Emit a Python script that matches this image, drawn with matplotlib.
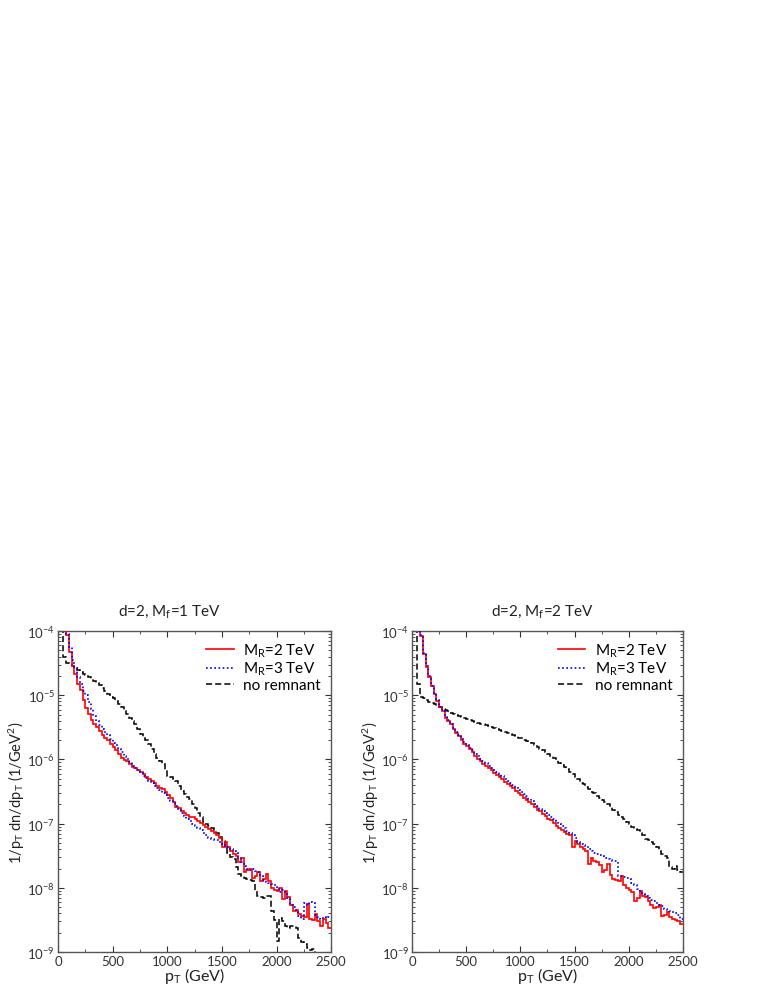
import numpy as np
import matplotlib
matplotlib.use("Agg")
import matplotlib.pyplot as plt
from matplotlib.ticker import MultipleLocator, FixedLocator, NullFormatter, LogFormatterMathtext

plt.rcParams['font.family'] = ['Lato', 'DejaVu Sans']
plt.rcParams['mathtext.default'] = 'regular'

# pT bins (GeV)
edges = np.arange(0, 2525, 25)

# log10 of 1/pT dn/dpT, read off the picture bin by bin
# --- left panel: d=2, Mf=1 TeV
left_mr2 = [-3.5, -3.7, -3.9, -4.06, -4.33, -4.54, -4.67, -4.82, -4.92, -5.08,
            -5.20, -5.29, -5.38, -5.45, -5.50, -5.56, -5.62, -5.66, -5.70, -5.76,
            -5.80, -5.85, -5.91, -5.97, -6.01, -6.03, -6.07, -6.11, -6.14, -6.16,
            -6.19, -6.23, -6.28, -6.31, -6.33, -6.37, -6.41, -6.44, -6.46, -6.50,
            -6.56, -6.60, -6.66, -6.74, -6.76, -6.81, -6.84, -6.87, -6.89, -6.90,
            -6.93, -6.96, -6.99, -7.02, -7.05, -7.09, -7.11, -7.14, -7.17, -7.22,
            -7.37, -7.29, -7.36, -7.42, -7.47, -7.50, -7.60, -7.53, -7.76, -7.72,
            -7.70, -7.84, -7.82, -7.76, -7.89, -7.86, -7.79, -7.90, -8.00, -8.03,
            -8.05, -8.00, -8.18, -8.05, -8.15, -8.26, -8.36, -8.34, -8.41, -8.44,
            -8.46, -8.25, -8.49, -8.50, -8.41, -8.52, -8.59, -8.49, -8.54, -8.62]
left_mr3 = [-3.5, -3.7, -3.9, -4.05, -4.25, -4.45, -4.58, -4.72, -4.82, -4.93,
            -5.00, -5.10, -5.22, -5.33, -5.40, -5.46, -5.52, -5.57, -5.62, -5.68,
            -5.74, -5.78, -5.84, -5.89, -5.94, -6.00, -6.04, -6.10, -6.14, -6.17,
            -6.21, -6.26, -6.29, -6.33, -6.37, -6.41, -6.45, -6.48, -6.52, -6.55,
            -6.60, -6.64, -6.68, -6.72, -6.78, -6.84, -6.88, -6.92, -6.96, -7.00,
            -7.03, -7.07, -7.10, -7.14, -7.18, -7.22, -7.24, -7.25, -7.26, -7.28,
            -7.31, -7.35, -7.37, -7.40, -7.43, -7.46, -7.53, -7.60, -7.66, -7.71,
            -7.72, -7.70, -7.73, -7.76, -7.82, -7.88, -7.91, -7.92, -7.94, -7.96,
            -8.00, -8.06, -8.04, -8.10, -8.18, -8.26, -8.30, -8.38, -8.44, -8.48,
            -8.24, -8.26, -8.22, -8.24, -8.42, -8.46, -8.48, -8.46, -8.47, -8.46]
left_norem = [-3.3, -3.6, -4.41, -4.49, -4.51, -4.54, -4.57, -4.61, -4.64, -4.67,
              -4.69, -4.72, -4.75, -4.78, -4.81, -4.84, -4.88, -4.93, -4.98, -5.02,
              -5.05, -5.09, -5.14, -5.19, -5.24, -5.29, -5.35, -5.40, -5.45, -5.52,
              -5.60, -5.66, -5.70, -5.76, -5.84, -5.92, -5.97, -6.02, -6.07, -6.16,
              -6.25, -6.28, -6.31, -6.34, -6.42, -6.49, -6.54, -6.58, -6.62, -6.70,
              -6.76, -6.83, -6.90, -6.97, -7.01, -7.04, -7.06, -7.10, -7.14, -7.21,
              -7.27, -7.37, -7.46, -7.52, -7.55, -7.68, -7.79, -7.81, -7.84, -7.86,
              -7.88, -7.90, -8.05, -8.12, -8.15, -8.16, -8.12, -8.12, -8.36, -8.50,
              -8.83, -8.47, -8.52, -8.60, -8.62, -8.60, -8.60, -8.62, -8.78, -8.84,
              -8.88, -8.94, -8.97, -8.96, -9.05, -9.15, -9.20, -9.30, -9.30, -9.35]

# --- right panel: d=2, Mf=2 TeV
right_mr2 = [-3.4, -3.6, -3.85, -4.07, -4.35, -4.56, -4.71, -4.86, -4.98, -5.09,
             -5.19, -5.25, -5.35, -5.40, -5.45, -5.53, -5.58, -5.63, -5.70, -5.76,
             -5.79, -5.84, -5.89, -5.94, -6.00, -6.03, -6.07, -6.10, -6.14, -6.17,
             -6.21, -6.24, -6.28, -6.31, -6.35, -6.38, -6.42, -6.45, -6.49, -6.52,
             -6.56, -6.60, -6.63, -6.67, -6.70, -6.74, -6.78, -6.81, -6.85, -6.88,
             -6.92, -6.95, -6.99, -7.03, -7.06, -7.10, -7.13, -7.16, -7.18, -7.37,
             -7.27, -7.31, -7.36, -7.40, -7.43, -7.63, -7.53, -7.58, -7.60, -7.64,
             -7.76, -7.72, -7.63, -7.80, -7.86, -7.88, -7.89, -7.81, -7.96, -8.00,
             -8.04, -8.07, -8.20, -8.16, -8.05, -8.12, -8.15, -8.20, -8.27, -8.31,
             -8.30, -8.27, -8.44, -8.42, -8.38, -8.45, -8.49, -8.50, -8.51, -8.57]
right_mr3 = [-3.4, -3.6, -3.85, -4.06, -4.34, -4.55, -4.70, -4.85, -4.97, -5.08,
             -5.18, -5.25, -5.33, -5.39, -5.45, -5.52, -5.57, -5.62, -5.68, -5.73,
             -5.77, -5.82, -5.86, -5.91, -5.95, -5.99, -6.03, -6.06, -6.10, -6.13,
             -6.17, -6.20, -6.23, -6.26, -6.30, -6.33, -6.36, -6.40, -6.43, -6.47,
             -6.50, -6.54, -6.57, -6.61, -6.65, -6.69, -6.73, -6.77, -6.80, -6.84,
             -6.87, -6.90, -6.93, -6.96, -7.00, -7.04, -7.07, -7.11, -7.14, -7.17,
             -7.22, -7.28, -7.31, -7.33, -7.35, -7.39, -7.43, -7.45, -7.47, -7.49,
             -7.51, -7.53, -7.55, -7.57, -7.58, -7.58, -7.81, -7.82, -7.83, -7.84,
             -7.86, -7.92, -7.96, -8.02, -8.05, -8.09, -8.13, -8.16, -8.19, -8.21,
             -8.23, -8.26, -8.29, -8.33, -8.34, -8.36, -8.37, -8.39, -8.42, -8.49]
right_norem = [-3.3, -3.6, -4.83, -5.02, -5.05, -5.07, -5.10, -5.12, -5.14, -5.16,
               -5.19, -5.21, -5.23, -5.25, -5.27, -5.29, -5.30, -5.32, -5.34, -5.35,
               -5.37, -5.38, -5.40, -5.41, -5.43, -5.44, -5.45, -5.47, -5.48, -5.50,
               -5.51, -5.52, -5.54, -5.56, -5.57, -5.59, -5.61, -5.62, -5.64, -5.66,
               -5.67, -5.69, -5.71, -5.73, -5.75, -5.77, -5.80, -5.83, -5.86, -5.89,
               -5.92, -5.95, -5.98, -6.01, -6.05, -6.08, -6.12, -6.15, -6.19, -6.22,
               -6.27, -6.31, -6.36, -6.39, -6.43, -6.46, -6.50, -6.53, -6.57, -6.60,
               -6.63, -6.66, -6.70, -6.73, -6.79, -6.82, -6.86, -6.90, -6.93, -6.97,
               -7.00, -7.05, -7.08, -7.10, -7.14, -7.18, -7.24, -7.26, -7.28, -7.32,
               -7.37, -7.42, -7.47, -7.50, -7.54, -7.68, -7.70, -7.66, -7.72, -7.76]

panels = [
    ("d=2, M$_f$=1 TeV", left_mr2, left_mr3, left_norem),
    ("d=2, M$_f$=2 TeV", right_mr2, right_mr3, right_norem),
]
ax_pos = [[0.076, 0.0344, 0.358, 0.3252], [0.540, 0.0344, 0.355, 0.3252]]
title_x = [0.222, 0.711]

# log axis ticks, only inside the 1e-9 .. 1e-4 range
y_major = [10.0 ** e for e in range(-9, -3)]
y_minor = [k * 10.0 ** e for e in range(-9, -4) for k in range(2, 10)]

fig = plt.figure(figsize=(7.63, 9.87), dpi=100)

for i, (title, mr2, mr3, norem) in enumerate(panels):
    ax = fig.add_axes(ax_pos[i])
    ax.stairs(10 ** np.array(norem), edges, color='black', lw=1.1,
              linestyle=(0, (4, 2)), baseline=None, label='no remnant', zorder=2)
    ax.stairs(10 ** np.array(mr2), edges, color='red', lw=1.2,
              baseline=None, label='M$_R$=2 TeV', zorder=3)
    ax.stairs(10 ** np.array(mr3), edges, color='blue', lw=1.2,
              linestyle=(0, (1, 1.5)), baseline=None, label='M$_R$=3 TeV', zorder=4)

    ax.set_yscale('log')
    ax.set_xlim(0, 2500)
    ax.set_ylim(1e-9, 1e-4)
    ax.xaxis.set_major_locator(MultipleLocator(500))
    ax.xaxis.set_minor_locator(MultipleLocator(250))
    ax.yaxis.set_major_locator(FixedLocator(y_major))
    ax.yaxis.set_major_formatter(LogFormatterMathtext())
    ax.yaxis.set_minor_locator(FixedLocator(y_minor))
    ax.yaxis.set_minor_formatter(NullFormatter())
    ax.tick_params(which='both', direction='in', top=True, right=True,
                   labelsize=9.5, colors='#333333', labelcolor='#333333', pad=2)
    ax.tick_params(which='major', length=4)
    ax.tick_params(which='minor', length=2)
    for s in ax.spines.values():
        s.set_color('#555555')
        s.set_linewidth(1.0)

    ax.set_xlabel('p$_T$ (GeV)', fontsize=11.5, labelpad=-1, color='#222222')
    ax.set_ylabel('1/p$_T$ dn/dp$_T$ (1/GeV$^2$)', fontsize=10.5, labelpad=0, color='#222222')
    fig.text(title_x[i], 0.380, title, fontsize=11, ha='center', va='center', color='#222222')

    h, l = ax.get_legend_handles_labels()
    order = [1, 2, 0]
    ax.legend([h[k] for k in order], [l[k] for k in order], loc='upper right',
              frameon=False, fontsize=11, handlelength=1.8, handletextpad=0.6,
              labelspacing=0.05, borderaxespad=0.3)

fig.savefig('out.png', dpi=100)
